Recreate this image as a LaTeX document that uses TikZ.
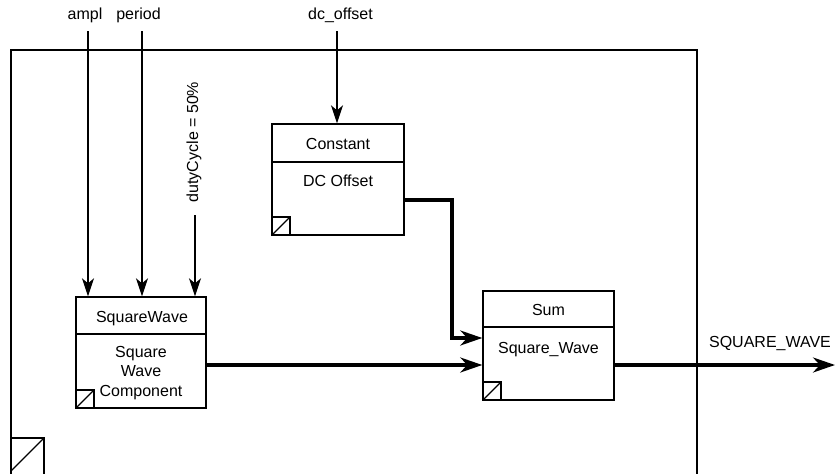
\documentclass[tikz,border=0pt]{standalone}
\usepackage{fontspec}
\setmainfont{Liberation Sans}
\usetikzlibrary{arrows.meta}
\begin{document}
\begin{tikzpicture}[x=1pt,y=-1pt,
  lbl/.style={font=\fontsize{16}{19}\selectfont, inner sep=0pt, anchor=base},
  block/.style={draw, line width=1.4pt, inner sep=0pt},
  thinline/.style={line width=1.4pt},
  sig/.style={line width=1.3pt, -{Stealth[length=18pt,width=12pt,inset=5pt]}},
  bus/.style={line width=3.3pt, -{Stealth[length=22pt,width=15pt,inset=7pt]}}]
\useasboundingbox (0,0) rectangle (836,474);
\clip (0,0) rectangle (836,474);

% enclosing subsystem frame with its corner flag
\draw[thinline] (11,50) rectangle (697,478);
\draw[thinline] (11,438) rectangle (44,478);
\draw[thinline] (11,471) -- (44,438);

% blocks
\node[block, minimum width=130pt, minimum height=111pt] (sw) at (141,352.5) {};
\node[block, minimum width=132pt, minimum height=111pt] (const) at (338,179.5) {};
\node[block, minimum width=131pt, minimum height=109pt] (sum) at (548.5,345.5) {};

% title dividers
\draw[thinline] (76,334) -- (206,334);
\draw[thinline] (272,162) -- (404,162);
\draw[thinline] (483,327) -- (614,327);

% corner flags
\draw[thinline] (76,390) rectangle (94,408);  \draw[thinline] (76,408) -- (94,390);
\draw[thinline] (272,217) rectangle (290,235); \draw[thinline] (272,235) -- (290,217);
\draw[thinline] (483,382) rectangle (501,400); \draw[thinline] (483,400) -- (501,382);

% block texts
\node[lbl] (swtitle) at (142,322) {SquareWave};
\node[lbl] (swl1) at (141,357) {Square};
\node[lbl] (swl2) at (141,376.5) {Wave};
\node[lbl] (swl3) at (141,396) {Component};
\node[lbl] (ctitle) at (338,149) {Constant};
\node[lbl] (cname) at (338,186) {DC Offset};
\node[lbl] (stitle) at (548.5,315) {Sum};
\node[lbl] (sname) at (548.5,353) {Square\_Wave};

% parameter labels
\node[lbl] (ampl) at (85,19) {ampl};
\node[lbl] (period) at (138.5,19) {period};
\node[lbl] (dc) at (340.5,19) {dc\_offset};
\node[font=\fontsize{16}{19}\selectfont, inner sep=0pt, rotate=90] (duty) at (194,142) {dutyCycle = 50\%};
\node[lbl] (outlbl) at (770,347) {SQUARE\_WAVE};

% connector end points
\coordinate (amplin) at (88,31);
\coordinate (periodin) at (142,31);
\coordinate (dutyin) at (195,215);
\coordinate (dcin) at (337,31);
\coordinate (yc) at (0,200);
\coordinate (ya) at (0,338);
\coordinate (yb) at (0,365);
\coordinate (bend) at (452,200);
\coordinate (outend) at (835,365);

% parameter inputs
\draw[sig] (amplin) -- (amplin |- sw.north);
\draw[sig] (periodin) -- (periodin |- sw.north);
\draw[sig] (dutyin) -- (dutyin |- sw.north);
\draw[sig] (dcin) -- (dcin |- const.north);

% signal lines
\draw[bus] (const.east |- yc) -- (bend) |- (sum.west |- ya);
\draw[bus] (sw.east |- yb) -- (sum.west |- yb);
\draw[bus] (sum.east |- yb) -- (outend);
\end{tikzpicture}
\end{document}
